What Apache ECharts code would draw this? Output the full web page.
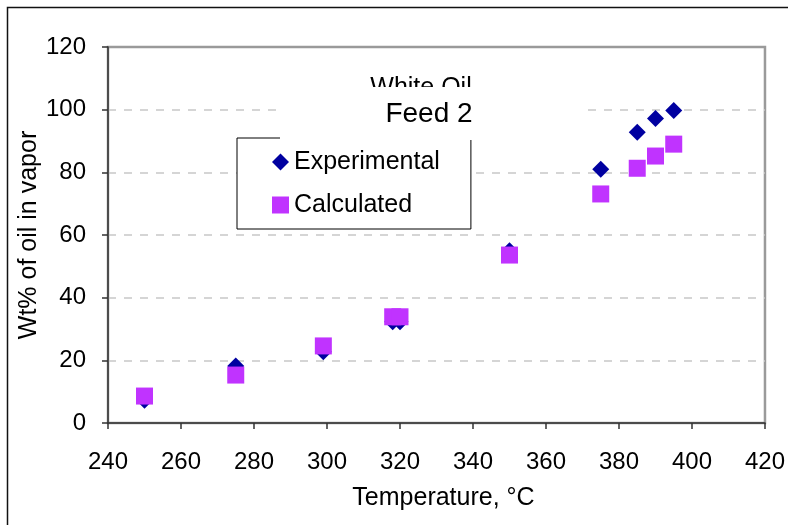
<!DOCTYPE html>
<html>
<head>
<meta charset="utf-8">
<script src="https://cdn.jsdelivr.net/npm/echarts@6/dist/echarts.min.js"></script>
<style>html,body{margin:0;padding:0;background:#fff;}#c{width:788px;height:525px;}</style>
</head>
<body>
<div id="c"></div>
<script>
const temps = [250, 275, 299, 318, 320, 350, 375, 385, 390, 395];
const experimental = [7.3, 18.2, 22.7, 32.3, 32.3, 55, 81, 92.8, 97.2, 99.7];
const calculated = [8.6, 15.3, 24.6, 33.9, 33.9, 53.6, 73.1, 81.3, 85.2, 89];
const xTicks = {min: 240, max: 420, step: 20};
const yTicks = {min: 0, max: 120, step: 20};
const FONT = "'Liberation Sans', Arial, sans-serif";

const chart = echarts.init(document.getElementById('c'), null, {renderer: 'canvas'});
chart.setOption({
  animation: false,
  grid: {left: 108, right: 22, top: 47, bottom: 102, show: true, borderColor: '#9a9a9a', borderWidth: 2.5, backgroundColor: 'transparent'},
  xAxis: {
    type: 'value', min: xTicks.min, max: xTicks.max, interval: xTicks.step,
    name: 'Temperature, °C', nameLocation: 'middle', nameGap: 63, nameMoveOverlap: false,
    nameTextStyle: {fontFamily: FONT, fontSize: 25, color: '#000', padding: [0, 0, 0, 14]},
    axisLine: {lineStyle: {color: '#333', width: 1.5}},
    axisTick: {inside: false, length: 6, lineStyle: {color: '#333', width: 1.5}},
    axisLabel: {fontFamily: FONT, fontSize: 24, color: '#000', margin: 27},
    splitLine: {show: false}
  },
  yAxis: {
    type: 'value', min: yTicks.min, max: yTicks.max, interval: yTicks.step,
    name: 'Wt% of oil in vapor', nameLocation: 'middle', nameGap: 66, nameMoveOverlap: false,
    nameTextStyle: {fontFamily: FONT, fontSize: 25, color: '#000'},
    axisLine: {show: true, lineStyle: {color: '#333', width: 1.5}},
    axisTick: {show: true, inside: false, length: 6, lineStyle: {color: '#333', width: 1.5}},
    axisLabel: {fontFamily: FONT, fontSize: 24, color: '#000', margin: 22},
    splitLine: {show: true, showMinLine: false, showMaxLine: false, lineStyle: {color: '#c8c8c8', type: [8, 8], width: 1.5}}
  },
  legend: {
    orient: 'vertical', left: 237, top: 138,
    padding: [11, 31, 11, 35],
    itemGap: 17, itemWidth: 17, itemHeight: 17, itemTextGap: 7,
    backgroundColor: '#fff', borderColor: '#000', borderWidth: 1,
    textStyle: {fontFamily: FONT, fontSize: 25, color: '#000', lineHeight: 26},
    data: [{name: 'Experimental', icon: 'diamond'}, {name: 'Calculated', icon: 'rect'}]
  },
  graphic: [
    {type: 'rect', left: 5, top: 5, z: 1, silent: true, shape: {x: 0, y: 0, width: 1000, height: 1000}, style: {fill: 'none', stroke: '#111', lineWidth: 1.5}},
    {type: 'text', x: 421, y: 76, z: 50, style: {text: 'White Oil', fontFamily: FONT, fontSize: 25, fill: '#000', align: 'center', verticalAlign: 'top'}},
    {type: 'rect', x: 280, y: 87, z: 100, shape: {width: 300, height: 53}, style: {fill: '#fff', stroke: 'none'}},
    {type: 'text', x: 429, y: 100, z: 101, style: {text: 'Feed 2', fontFamily: FONT, fontSize: 28, fill: '#000', align: 'center', verticalAlign: 'top'}}
  ],
  series: [
    {name: 'Experimental', type: 'scatter', symbol: 'diamond', symbolSize: 17,
     itemStyle: {color: '#0000a0', opacity: 1}, data: temps.map((t, i) => [t, experimental[i]])},
    {name: 'Calculated', type: 'scatter', symbol: 'rect', symbolSize: 17,
     itemStyle: {color: '#c033ff', opacity: 1}, data: temps.map((t, i) => [t, calculated[i]])}
  ]
});
</script>
</body>
</html>
